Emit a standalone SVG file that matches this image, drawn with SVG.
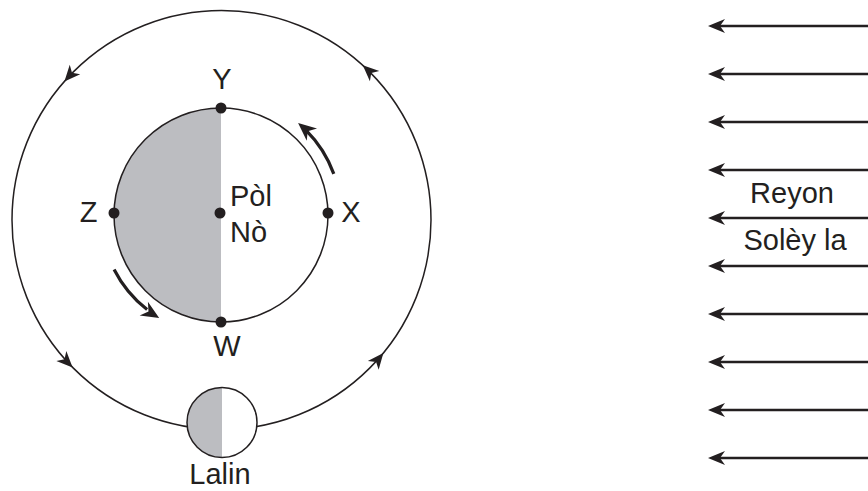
<svg xmlns="http://www.w3.org/2000/svg" width="868" height="491" viewBox="0 0 868 491">
<style>
text{font-family:"Liberation Sans",Arial,sans-serif;font-size:29px;fill:#231f20}
.ln{fill:none;stroke:#231f20;stroke-width:1.5}
.shade{fill:#bcbdc1}
.dot{fill:#231f20}
.ray{stroke:#231f20;stroke-width:2.7}
.thick{fill:none;stroke:#231f20;stroke-width:3.2}
.head{fill:#231f20}
</style>
<defs>
<path id="oh" d="M0,0 L-16,-7 L-11.5,0 L-16,7 Z"/>
<path id="th" d="M0,0 L-18,-8 L-12.5,0 L-18,8 Z"/>
<path id="rh" d="M0,0 L17,-7 L12,0 L17,7 Z"/>
</defs>
<g id="orbit">
<circle class="ln" cx="221.5" cy="220" r="209.5"/>
<use href="#oh" class="head" transform="translate(64.4,81.5) rotate(131.4)"/>
<use href="#oh" class="head" transform="translate(362.8,65.3) rotate(222.4)"/>
<use href="#oh" class="head" transform="translate(72.6,367.4) rotate(45.3)"/>
<use href="#oh" class="head" transform="translate(383.4,353) rotate(-50.6)"/>
</g>
<g id="earth">
<circle cx="221" cy="215" r="107" fill="#fff"/>
<path class="shade" d="M221,108 A107,107 0 0 0 221,322 Z"/>
<circle class="ln" cx="221" cy="215" r="107"/>
<circle class="dot" cx="221" cy="108" r="5.5"/>
<circle class="dot" cx="221" cy="322" r="5.5"/>
<circle class="dot" cx="114" cy="213" r="5.5"/>
<circle class="dot" cx="328" cy="213" r="5.5"/>
<circle class="dot" cx="220" cy="213" r="5.5"/>
<text x="222" y="89" text-anchor="middle">Y</text>
<text x="88.5" y="222" text-anchor="middle">Z</text>
<text x="351" y="222" text-anchor="middle">X</text>
<text x="227" y="356" text-anchor="middle">W</text>
<text x="230" y="206">Pòl</text>
<text x="230" y="242">Nò</text>
</g>
<g id="rotation">
<path class="thick" d="M333.8,173.9 A120,120 0 0 0 305.9,130.2"/>
<use href="#th" class="head" transform="translate(298.1,123.1) rotate(-140)"/>
<path class="thick" d="M114.1,269.5 A120,120 0 0 0 147.1,309.6"/>
<use href="#th" class="head" transform="translate(159.2,317.9) rotate(31)"/>
</g>
<g id="moon">
<circle cx="222" cy="422.5" r="35" fill="#fff"/>
<path class="shade" d="M222,387.5 A35,35 0 0 0 222,457.5 Z"/>
<circle class="ln" cx="222" cy="422.5" r="35"/>
<text x="220" y="484" text-anchor="middle">Lalin</text>
</g>
<g id="sunrays">
<g class="ray">
<line x1="718" y1="26" x2="868" y2="26"/>
<line x1="718" y1="74" x2="868" y2="74"/>
<line x1="718" y1="122" x2="868" y2="122"/>
<line x1="718" y1="170" x2="868" y2="170"/>
<line x1="718" y1="218" x2="868" y2="218"/>
<line x1="718" y1="266" x2="868" y2="266"/>
<line x1="718" y1="314" x2="868" y2="314"/>
<line x1="718" y1="362" x2="868" y2="362"/>
<line x1="718" y1="410" x2="868" y2="410"/>
<line x1="718" y1="458" x2="868" y2="458"/>
</g>
<g class="head">
<use href="#rh" x="708" y="26"/>
<use href="#rh" x="708" y="74"/>
<use href="#rh" x="708" y="122"/>
<use href="#rh" x="708" y="170"/>
<use href="#rh" x="708" y="218"/>
<use href="#rh" x="708" y="266"/>
<use href="#rh" x="708" y="314"/>
<use href="#rh" x="708" y="362"/>
<use href="#rh" x="708" y="410"/>
<use href="#rh" x="708" y="458"/>
</g>
<text x="792" y="203" text-anchor="middle">Reyon</text>
<text x="795" y="250" text-anchor="middle">Solèy la</text>
</g>
</svg>
